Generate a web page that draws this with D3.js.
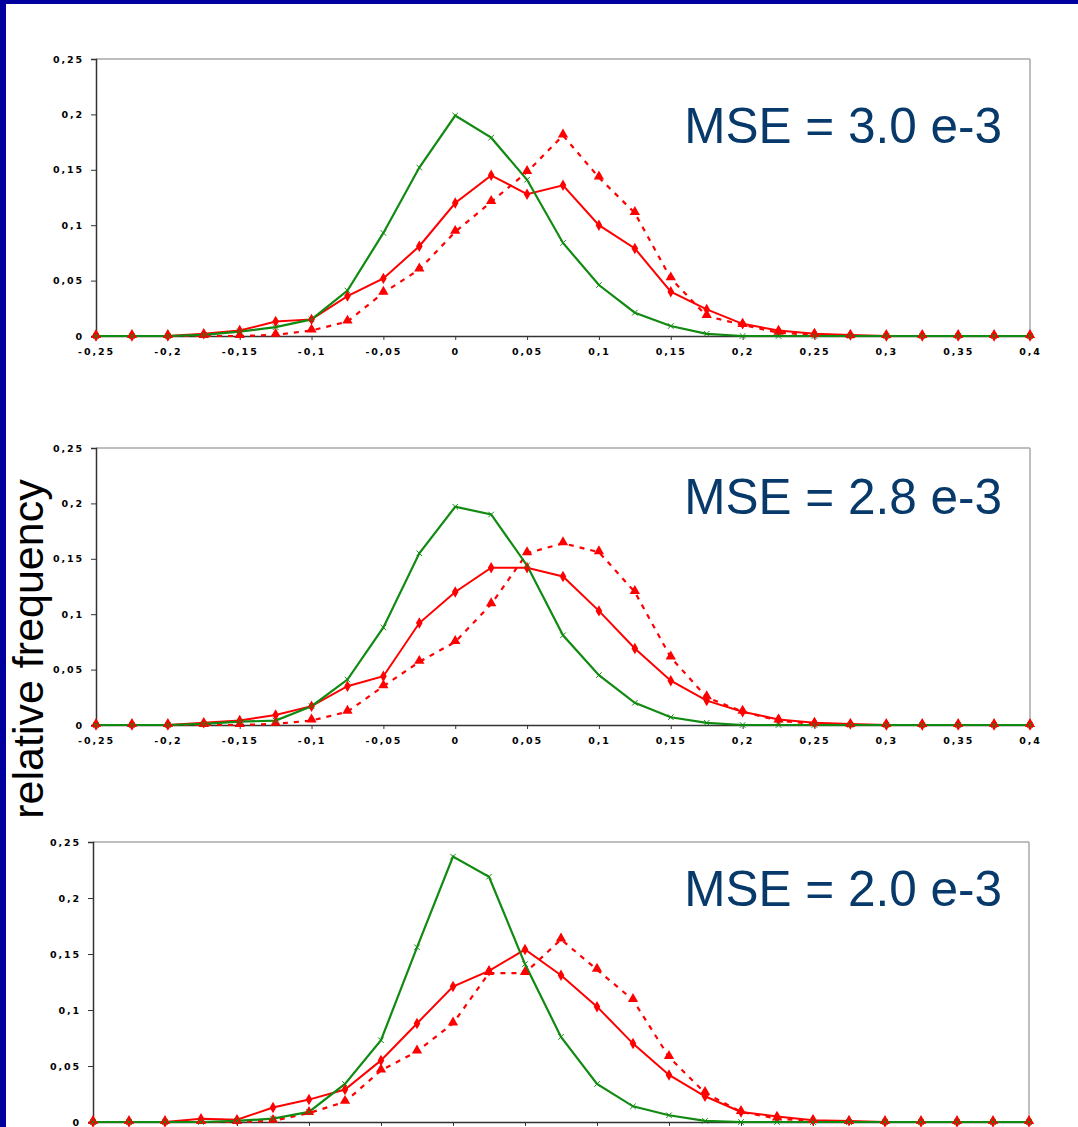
<!DOCTYPE html>
<html>
<head>
<meta charset="utf-8">
<script src="https://cdn.jsdelivr.net/npm/d3@7"></script>
<style>
  html, body { margin: 0; padding: 0; background: #ffffff; }
  svg { display: block; }
</style>
</head>
<body>
<svg id="chart" width="1078" height="1127"></svg>
<script>
// ---------- data ----------
const xValues = [-0.25,-0.225,-0.2,-0.175,-0.15,-0.125,-0.1,-0.075,-0.05,-0.025,0,0.025,0.05,0.075,0.1,0.125,0.15,0.175,0.2,0.225,0.25,0.275,0.3,0.325,0.35,0.375,0.4];

const xTicks = [-0.25,-0.2,-0.15,-0.1,-0.05,0,0.05,0.1,0.15,0.2,0.25,0.3,0.35,0.4];
const xTickLabels = ["-0,25","-0,2","-0,15","-0,1","-0,05","0","0,05","0,1","0,15","0,2","0,25","0,3","0,35","0,4"];
const yTicks = [0,0.05,0.1,0.15,0.2,0.25];
const yTickLabels = ["0","0,05","0,1","0,15","0,2","0,25"];

const mseLabels = ["MSE = 3.0 e-3","MSE = 2.8 e-3","MSE = 2.0 e-3"];
const yAxisTitle = "relative frequency";

// panel 1
const green1  = [0,0,0,0.001,0.004,0.008,0.015,0.041,0.093,0.152,0.199,0.179,0.141,0.084,0.046,0.021,0.009,0.002,0,0,0,0,0,0,0,0,0];
const red1    = [0,0,0,0.002,0.005,0.013,0.015,0.036,0.052,0.081,0.120,0.145,0.128,0.136,0.100,0.079,0.040,0.024,0.011,0.005,0.002,0.001,0,0,0,0,0];
const dashed1 = [0,0,0,0,0,0.001,0.005,0.013,0.039,0.060,0.094,0.121,0.148,0.181,0.143,0.111,0.052,0.018,0.010,0.003,0.001,0,0,0,0,0,0];
// panel 2
const green2  = [0,0,0,0.001,0.003,0.004,0.017,0.041,0.088,0.155,0.197,0.190,0.144,0.081,0.045,0.020,0.007,0.002,0,0,0,0,0,0,0,0,0];
const red2    = [0,0,0,0.002,0.004,0.009,0.017,0.035,0.044,0.092,0.120,0.142,0.142,0.134,0.103,0.069,0.040,0.022,0.012,0.005,0.002,0.001,0,0,0,0,0];
const dashed2 = [0,0,0,0,0,0.001,0.004,0.012,0.035,0.057,0.075,0.109,0.155,0.164,0.156,0.120,0.061,0.025,0.012,0.004,0.001,0,0,0,0,0,0];
// panel 3
const green3  = [0,0,0,0,0.001,0.003,0.009,0.034,0.073,0.156,0.237,0.219,0.141,0.076,0.034,0.014,0.006,0.001,0,0,0,0,0,0,0,0,0];
const red3    = [0,0,0,0.003,0.002,0.013,0.020,0.029,0.055,0.088,0.121,0.135,0.154,0.131,0.103,0.070,0.042,0.023,0.009,0.005,0.0015,0.001,0,0,0,0,0];
const dashed3 = [0,0,0,0,0,0.001,0.008,0.018,0.046,0.063,0.088,0.133,0.133,0.163,0.136,0.109,0.058,0.026,0.009,0.003,0.001,0,0,0,0,0,0];

// ---------- layout ----------
const W = 1078, H = 1127;
const panels = [
  {x0: 96, x1: 1030, yTop: 59,  yZero: 336,  green: green1, red: red1, dashed: dashed1, mse: mseLabels[0], mseY: 143, showX: true},
  {x0: 96, x1: 1030, yTop: 448, yZero: 725,  green: green2, red: red2, dashed: dashed2, mse: mseLabels[1], mseY: 514, showX: true},
  {x0: 93, x1: 1029, yTop: 842, yZero: 1122, green: green3, red: red3, dashed: dashed3, mse: mseLabels[2], mseY: 906, showX: false}
];

const GREEN = "#118a11";
const RED = "#ff0000";
const FRAME_BLUE = "#00009e";

const svg = d3.select("#chart");

// white background + blue frame (top & left)
svg.append("rect").attr("x", 0).attr("y", 0).attr("width", W).attr("height", H).attr("fill", "#ffffff");
svg.append("rect").attr("x", 0).attr("y", 0).attr("width", W).attr("height", 4).attr("fill", FRAME_BLUE);
svg.append("rect").attr("x", 0).attr("y", 0).attr("width", 6).attr("height", H).attr("fill", FRAME_BLUE);

function styleTicks(sel) {
  sel.attr("fill", "#000").attr("font-family", "DejaVu Sans, sans-serif")
    .attr("font-weight", "bold").attr("font-size", 9.5).attr("letter-spacing", 1.9);
}

panels.forEach(p => {
  const x = d3.scaleLinear().domain([-0.25, 0.4]).range([p.x0, p.x1]);
  const y = d3.scaleLinear().domain([0, 0.25]).range([p.yZero, p.yTop]);
  const g = svg.append("g");

  // plot frame: grey top and right
  g.append("line").attr("x1", p.x0).attr("x2", p.x1).attr("y1", p.yTop).attr("y2", p.yTop)
    .attr("stroke", "#a8a8a8").attr("stroke-width", 1.5);
  g.append("line").attr("x1", p.x1).attr("x2", p.x1).attr("y1", p.yTop).attr("y2", p.yZero)
    .attr("stroke", "#a8a8a8").attr("stroke-width", 1.5);

  // y axis
  const yAxis = d3.axisLeft(y).tickValues(yTicks)
    .tickFormat((d, i) => yTickLabels[i]).tickSizeOuter(0).tickSize(5).tickPadding(7);
  const ya = g.append("g").attr("transform", `translate(${p.x0},0)`).call(yAxis);
  ya.select(".domain").attr("stroke", "#333").attr("stroke-width", 1.5);
  ya.selectAll(".tick line").attr("stroke", "#333").attr("stroke-width", 1);
  styleTicks(ya.selectAll(".tick text"));

  // x axis
  const xAxis = d3.axisBottom(x).tickValues(xTicks)
    .tickFormat((d, i) => p.showX ? xTickLabels[i] : "").tickSizeOuter(0).tickSize(4).tickPadding(8);
  const xa = g.append("g").attr("transform", `translate(0,${p.yZero})`).call(xAxis);
  xa.select(".domain").attr("stroke", "#333").attr("stroke-width", 1.5);
  xa.selectAll(".tick line").attr("stroke", "#333").attr("stroke-width", 1);
  styleTicks(xa.selectAll(".tick text"));
  if (!p.showX) xa.selectAll(".tick text").remove();

  const line = d3.line().x((d, i) => x(xValues[i])).y(d => y(d));

  // lines
  g.append("path").datum(p.dashed).attr("d", line).attr("fill", "none")
    .attr("stroke", RED).attr("stroke-width", 2.2).attr("stroke-dasharray", "5,6");
  g.append("path").datum(p.red).attr("d", line).attr("fill", "none")
    .attr("stroke", RED).attr("stroke-width", 2);
  g.append("path").datum(p.green).attr("d", line).attr("fill", "none")
    .attr("stroke", GREEN).attr("stroke-width", 2.2);

  // markers
  const tri = d3.symbol().type(d3.symbolTriangle).size(46);
  const dia = d3.symbol().type(d3.symbolDiamond).size(38);
  const cross = d3.symbol().type(d3.symbolX).size(22);

  g.selectAll(null).data(p.dashed).join("path")
    .attr("d", tri).attr("transform", (d, i) => `translate(${x(xValues[i])},${y(d) - 1})`)
    .attr("fill", RED);
  g.selectAll(null).data(p.red).join("path")
    .attr("d", dia).attr("transform", (d, i) => `translate(${x(xValues[i])},${y(d)})`)
    .attr("fill", RED);
  g.selectAll(null).data(p.green).join("path")
    .attr("d", cross).attr("transform", (d, i) => `translate(${x(xValues[i])},${y(d)})`)
    .attr("fill", "none").attr("stroke", GREEN).attr("stroke-width", 1);

  // MSE label
  g.append("text").attr("x", 1002).attr("y", p.mseY).attr("text-anchor", "end")
    .attr("font-family", "Liberation Sans, Arial, sans-serif").attr("font-size", 49.5)
    .attr("fill", "#073a6b").text(p.mse);
});

// y axis title
svg.append("text")
  .attr("transform", "translate(43,649) rotate(-90)")
  .attr("text-anchor", "middle")
  .attr("font-family", "Liberation Sans, Arial, sans-serif")
  .attr("font-size", 43)
  .attr("fill", "#000")
  .text(yAxisTitle);
</script>
</body>
</html>
